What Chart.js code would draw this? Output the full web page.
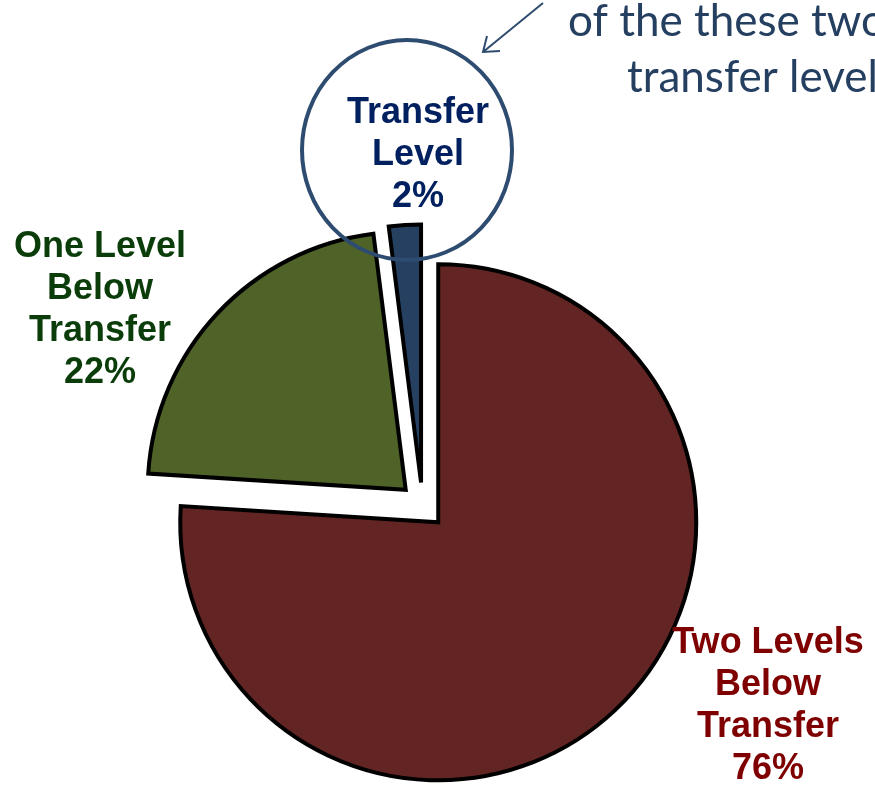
<!DOCTYPE html>
<html>
<head>
<meta charset="utf-8">
<script src="https://cdn.jsdelivr.net/npm/chart.js@4"></script>
<style>
  html, body { margin: 0; padding: 0; background: #fff; }
  #wrap { width: 875px; height: 786px; position: relative; }
</style>
</head>
<body>
<div id="wrap"><canvas id="levelsPie"></canvas></div>
<script>
// placement levels, clockwise from 12 o'clock
var categories = [
  ['Two Levels', 'Below', 'Transfer'],
  ['One Level', 'Below', 'Transfer'],
  ['Transfer', 'Level']
];
var shares = [76, 22, 2];
var sliceColors = ['#632523', '#4F6228', '#254061'];
var labelColors = ['#7F0000', '#0B3D0B', '#002060'];

// every slice pulled out from the centre by the same distance
var explodePlugin = {
  id: 'explode',
  afterDatasetsUpdate: function (chart, args, opts) {
    var d = opts.distance || 0;
    chart.getDatasetMeta(0).data.forEach(function (arc) {
      var mid = (arc.startAngle + arc.endAngle) / 2;
      arc.x += Math.cos(mid) * d;
      arc.y += Math.sin(mid) * d;
    });
  }
};

// category name + percent, centred under each anchor
var sliceLabels = {
  id: 'sliceLabels',
  afterDatasetsDraw: function (chart, args, opts) {
    var ctx = chart.ctx;
    var labels = chart.data.labels;
    var values = chart.data.datasets[0].data;
    ctx.save();
    ctx.font = 'bold 36px "Liberation Sans", Arial, sans-serif';
    ctx.textAlign = 'center';
    ctx.textBaseline = 'alphabetic';
    opts.anchors.forEach(function (a, i) {
      var lines = labels[i].concat([values[i] + '%']);
      ctx.fillStyle = labelColors[i];
      lines.forEach(function (t, j) {
        ctx.fillText(t, a.x, a.y + j * opts.lineHeight);
      });
    });
    ctx.restore();
  }
};

// callout ring round the small slice's label, with the pointer from the note
var callout = {
  id: 'callout',
  afterDraw: function (chart) {
    var ctx = chart.ctx;
    ctx.save();
    ctx.strokeStyle = '#2E4B70';
    ctx.lineWidth = 4;
    ctx.beginPath();
    ctx.ellipse(407, 150, 105, 110, 0, 0, Math.PI * 2);
    ctx.stroke();

    ctx.lineWidth = 2;
    ctx.beginPath();
    ctx.moveTo(543, 3);
    ctx.lineTo(483, 52);
    ctx.moveTo(487, 36);
    ctx.lineTo(483, 52);
    ctx.lineTo(500, 51);
    ctx.stroke();

    ctx.fillStyle = '#243F60';
    ctx.font = '44px Lato, "Open Sans", sans-serif';
    ctx.textAlign = 'left';
    ctx.fillText('of the these two', 568, 36);
    ctx.fillText('transfer level', 627, 92);
    ctx.restore();
  }
};

new Chart(document.getElementById('levelsPie'), {
  type: 'pie',
  data: {
    labels: categories,
    datasets: [{
      data: shares,
      backgroundColor: sliceColors,
      borderColor: '#000',
      borderWidth: 4,
      borderJoinStyle: 'miter',
      radius: 258
    }]
  },
  options: {
    responsive: true,
    maintainAspectRatio: false,
    animation: false,
    layout: { padding: { left: 0, right: 30, top: 225, bottom: 0 } },
    plugins: {
      legend: { display: false },
      tooltip: { enabled: false },
      explode: { distance: 23 },
      sliceLabels: {
        lineHeight: 42,
        anchors: [{ x: 768, y: 653 }, { x: 100, y: 257 }, { x: 418, y: 123 }]
      }
    }
  },
  plugins: [explodePlugin, sliceLabels, callout]
});
</script>
</body>
</html>
